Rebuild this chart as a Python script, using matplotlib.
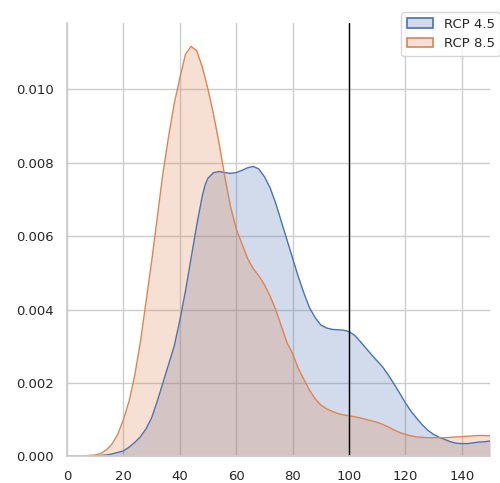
import matplotlib
matplotlib.use("Agg")
import matplotlib.pyplot as plt
from matplotlib.patches import Patch
import seaborn as sns

# density curves
x45 = [0, 5, 10, 15, 20, 22, 24, 26, 28, 30, 32, 34, 36, 38, 40, 42, 44, 46, 48, 49,
       50, 52, 54, 56, 58, 60, 62, 64, 66, 68, 70, 72, 74, 76, 78, 80, 82, 84, 86, 88,
       90, 92, 94, 96, 98, 100, 102, 104, 106, 108, 110, 112, 114, 116, 118, 120, 122,
       124, 126, 128, 130, 132, 134, 136, 138, 140, 142, 144, 146, 148, 150]
y45 = [0, 0.0, 0.00001, 0.00005, 0.00015, 0.00025, 0.00038, 0.00053, 0.00075, 0.00105,
       0.0015, 0.002, 0.0025, 0.003, 0.0037, 0.0045, 0.0054, 0.0063, 0.0071, 0.0074,
       0.00758, 0.00773, 0.00776, 0.00773, 0.00771, 0.00773, 0.00779, 0.00786, 0.0079, 0.00783,
       0.00762, 0.00732, 0.0069, 0.0064, 0.0059, 0.0054, 0.0049, 0.00445, 0.00405, 0.00378,
       0.00358, 0.0035, 0.00346, 0.00345, 0.00344, 0.0034, 0.0033, 0.00313, 0.00295, 0.00277,
       0.0026, 0.00243, 0.00221, 0.00197, 0.00172, 0.00146, 0.00123, 0.00104, 0.00086, 0.00071,
       0.0006, 0.00052, 0.00046, 0.0004, 0.00036, 0.00035, 0.00035, 0.00037, 0.00039, 0.0004,
       0.00042]

x85 = [0, 5, 10, 12, 14, 16, 18, 20, 22, 24, 26, 28, 30, 32, 34, 36, 38, 40, 42, 44,
       46, 48, 50, 52, 54, 56, 58, 60, 62, 64, 66, 68, 70, 72, 74, 76, 78, 80, 82, 84,
       86, 88, 90, 92, 94, 96, 98, 100, 102, 104, 106, 108, 110, 112, 114, 116, 118, 120,
       122, 124, 126, 128, 130, 132, 134, 136, 138, 140, 142, 144, 146, 148, 150]
y85 = [0, 0.00001, 0.00004, 0.00008, 0.00018, 0.00034, 0.0006, 0.001, 0.0015, 0.0022,
       0.0031, 0.0042, 0.0053, 0.0065, 0.0077, 0.0087, 0.0096, 0.0103, 0.01095, 0.01117,
       0.01105, 0.0106, 0.0100, 0.0093, 0.0085, 0.0076, 0.0068, 0.0062, 0.0058, 0.0054,
       0.00512, 0.00492, 0.00468, 0.00437, 0.0040, 0.00355, 0.0031, 0.0028, 0.0024, 0.0021,
       0.0018, 0.00157, 0.0014, 0.0013, 0.00123, 0.00117, 0.00113, 0.00111, 0.00108, 0.00105,
       0.00101, 0.00097, 0.00093, 0.00087, 0.0008, 0.00072, 0.00065, 0.0006, 0.00056, 0.00053,
       0.00052, 0.00051, 0.00051, 0.00051, 0.00051, 0.00052, 0.00053, 0.00054, 0.00055, 0.00056,
       0.00057, 0.00057, 0.00056]

threshold = 100

sns.set_theme(style="whitegrid")
colors = sns.color_palette("deep")

fig = plt.figure(figsize=(5, 4.83), dpi=100)
ax = fig.add_axes([0.134, 0.055, 0.846, 0.897])

ax.fill_between(x45, y45, color=colors[0], alpha=0.25, linewidth=0)
ax.plot(x45, y45, color=colors[0], linewidth=1.0)
ax.fill_between(x85, y85, color=colors[1], alpha=0.25, linewidth=0)
ax.plot(x85, y85, color=colors[1], linewidth=1.0)
ax.axvline(threshold, color="black", linewidth=1.0)

ax.set_xlim(0, 150)
ax.set_ylim(0, 0.0118)
ax.set_xticks([0, 20, 40, 60, 80, 100, 120, 140])
ax.set_yticks([0, 0.002, 0.004, 0.006, 0.008, 0.010])
ax.set_yticklabels(["0.000", "0.002", "0.004", "0.006", "0.008", "0.010"])
ax.tick_params(labelsize=9.5)
sns.despine(ax=ax)

handles = [Patch(facecolor=(*colors[0], 0.25), edgecolor=colors[0], linewidth=1.2),
           Patch(facecolor=(*colors[1], 0.25), edgecolor=colors[1], linewidth=1.2)]
fig.legend(handles, ["RCP 4.5", "RCP 8.5"], loc="upper right",
           bbox_to_anchor=(1.013, 0.988), fontsize=9.5)

fig.savefig("out.png")
